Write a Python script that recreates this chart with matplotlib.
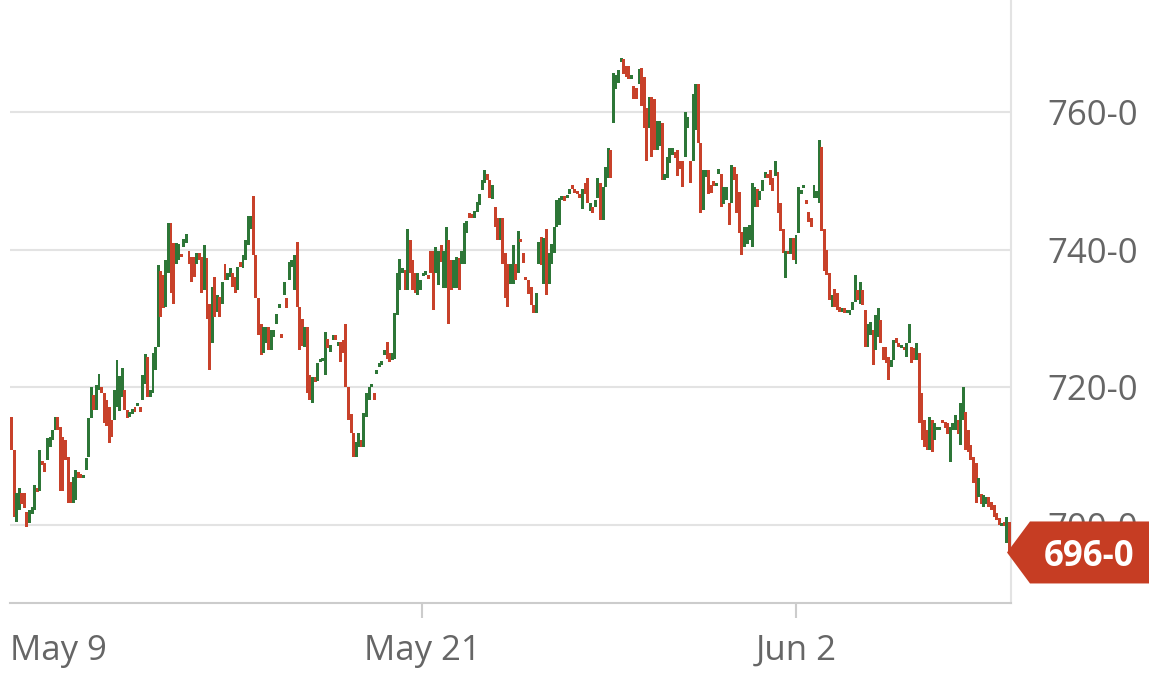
import numpy as np
import matplotlib
matplotlib.use('Agg')
import matplotlib.pyplot as plt
from matplotlib.patches import Polygon
from matplotlib.transforms import IdentityTransform

# bar open / close values (one bar per interval)
opens = [
    715.7, 710.9, 700.4, 702.2, 704.6, 704.6, 701.9, 700.3, 701.6, 702.2,
    705.4, 705.0, 709.3, 709.0, 709.4, 711.3, 712.3, 713.8, 715.7, 714.2,
    712.8, 712.3, 709.9, 706.3, 703.2, 703.6, 707.7, 707.3, 706.8, 708.0,
    709.9, 715.5, 718.9, 716.7, 719.6, 720.1, 719.2, 718.2, 717.1, 715.3,
    715.3, 717.1, 716.6, 718.6, 719.6, 716.7, 715.7, 716.1, 717.1, 717.3,
    717.1, 718.2, 720.5, 724.4, 718.6, 719.2, 722.5, 725.9, 737.0, 736.3,
    731.7, 736.6, 743.9, 741.0, 738.0, 738.6, 739.2, 740.4, 741.0, 739.9,
    738.9, 738.9, 738.0, 739.6, 738.9, 734.1, 738.8, 732.2, 726.4, 736.0,
    731.0, 733.1, 732.2, 738.0, 735.6, 736.0, 736.6, 736.0, 734.1, 738.3,
    737.3, 738.5, 740.7, 743.0, 747.9, 739.2, 733.0, 729.3, 725.0, 726.4,
    728.8, 725.4, 727.3, 729.3, 731.6, 727.8, 733.4, 733.0, 735.6, 737.5,
    734.1, 741.1, 731.7, 730.0, 725.9, 728.8, 721.8, 717.7, 721.5, 721.0,
    723.7, 723.8,
    721.8, 727.0, 725.2, 726.9, 727.6, 726.1, 726.6, 726.9, 729.3, 720.0,
    716.2, 713.4, 709.9, 711.3, 712.4, 711.3, 715.7, 718.2, 720.0, 719.2,
    722.0, 723.0, 723.3, 724.7, 726.6, 725.0, 724.0, 724.2, 730.5, 734.1,
    736.6, 737.1, 734.1, 741.4, 738.5, 736.6, 733.4, 734.1, 736.2, 736.4,
    736.3, 739.9, 739.9, 736.6, 734.9, 740.7, 734.4, 734.4, 741.4, 738.5,
    734.4, 734.4, 738.8, 738.0, 738.0, 742.4, 745.3, 745.0, 744.6, 745.5,
    746.5, 748.7, 749.7, 751.1, 750.1, 747.4, 746.2, 744.7, 741.4,
    744.7, 739.5, 738.0, 735.1, 735.1, 738.0, 736.6, 741.5, 739.5, 736.1,
    735.6, 734.6, 732.0, 730.9, 738.0, 741.9, 735.1, 743.1, 735.1, 738.0,
    739.5, 743.3, 743.6, 747.3, 747.8, 747.5, 748.2, 749.1, 748.8, 748.6,
    748.2, 745.9, 749.7, 750.4, 745.6, 746.3, 746.3, 747.6, 749.7, 744.3,
    749.1, 750.5, 754.5, 758.4, 763.4, 764.3, 767.4, 767.8, 766.8, 766.8,
    764.9, 763.9, 763.6, 764.2, 766.5, 765.1, 760.7, 757.8, 762.2, 762.0,
    754.5, 755.1, 758.5,
    750.1, 750.5, 752.6, 753.8, 754.3, 754.5, 753.0, 753.0, 753.5, 757.7,
    753.0, 753.0, 757.4, 764.2, 755.6, 745.8, 750.6, 751.6, 749.5, 750.0,
    749.3, 751.1, 751.1, 746.7, 747.2, 746.8, 746.8, 752.0, 751.1, 748.4,
    742.6, 740.4, 740.9, 741.4, 740.4, 746.3, 748.8, 747.3, 748.5, 750.4,
    751.1, 751.6, 750.5, 750.7, 751.3, 746.8, 743.1, 735.9, 739.9, 739.4,
    741.8, 737.9, 742.4, 748.1, 749.0, 747.1, 745.5, 744.7, 747.5, 747.6,
    746.8,
    754.9, 743.1, 740.0, 736.6, 731.7, 734.3, 733.7, 731.7, 731.0, 731.5,
    730.8, 730.5, 731.2, 732.4, 734.1, 732.2, 734.1, 731.2, 725.9, 727.6,
    728.3, 725.4, 727.3, 729.8, 725.9, 725.9, 724.4, 723.0, 724.0, 727.2,
    726.4, 725.7, 725.9, 724.4, 726.4, 725.9, 725.7, 724.0, 725.0, 719.2,
    715.3, 713.8, 710.9, 715.3, 712.3, 713.8, 713.8, 715.3, 715.0, 714.8,
    709.2, 713.8, 713.8, 715.3, 711.6, 715.3, 716.4, 713.8, 711.6, 709.9,
    709.0, 704.0, 704.5, 702.6, 703.1, 704.0, 703.4, 702.9, 701.7, 701.0,
    699.8, 700.4, 697.4, 700.4,
]
closes = [
    710.9, 701.2, 704.6, 705.4, 703.1, 702.5, 699.7, 702.2, 702.6, 705.8,
    704.8, 710.9, 708.7, 707.7, 712.6, 712.8, 713.8, 715.7, 713.8, 705.0,
    705.0, 709.4, 703.2, 703.2, 707.0, 708.0, 706.8, 706.9, 707.3, 709.7,
    715.5, 720.0, 716.7, 720.3, 722.0, 719.2, 714.8, 714.4, 711.9, 712.8,
    719.6, 724.0, 721.6, 722.9, 716.7, 715.5, 716.4, 716.8, 716.4, 717.6,
    716.4, 721.8, 724.8, 718.6, 719.6, 725.0, 725.9, 737.8, 730.2, 731.5,
    738.5, 743.9, 733.7, 732.2, 741.0, 740.9, 738.9, 741.6, 742.3, 738.0,
    735.3, 736.0, 739.6, 738.5, 733.7, 740.7, 730.0, 722.5, 734.6, 730.2,
    733.4, 730.2, 735.3, 735.6, 736.6, 737.3, 734.6, 733.8, 737.5, 737.5,
    739.2, 741.4, 745.0, 745.0, 739.2, 733.0, 727.6, 724.7, 728.8, 728.8,
    725.4, 728.3, 728.3, 730.7, 732.2, 727.2, 735.3, 731.5, 738.2, 738.5,
    739.2, 731.7, 725.4, 726.0, 728.8, 719.2, 718.2, 721.5, 720.8, 723.6,
    724.0, 724.1,
    728.0, 725.7, 726.2, 727.6, 726.9, 726.5, 723.7, 725.0, 720.0, 715.3,
    713.4, 709.9, 712.0, 713.4, 711.3, 716.3, 719.2, 720.0, 720.4, 718.2,
    722.5, 723.5, 723.7, 725.4, 724.2, 723.7, 725.0, 730.8, 736.6, 738.7,
    737.3, 734.1, 743.1, 736.6, 734.1, 733.7, 736.6, 735.6, 736.7, 736.9,
    735.8, 736.6, 731.2, 740.4, 739.9, 738.3, 739.9, 743.3, 729.3, 734.1,
    738.5, 739.0, 734.1, 739.9, 743.9, 744.2, 744.6, 744.7, 745.6, 746.9,
    748.2, 750.1, 751.6, 750.1, 747.6, 749.4, 743.3, 741.4, 744.7,
    738.0, 733.0, 731.7, 738.0, 740.7, 735.6, 742.8, 741.1, 738.1, 735.6,
    733.6, 732.0, 730.9, 733.8, 741.1, 737.8, 741.8, 733.4, 739.5, 740.9,
    743.3, 747.2, 747.5, 747.8, 747.1, 748.0, 748.9, 748.9, 748.3, 748.1,
    747.5, 748.8, 748.2, 746.8, 746.8, 745.4, 747.3, 750.4, 744.3, 749.1,
    752.0, 754.8, 750.5, 765.8, 765.4, 766.1, 767.8, 765.6, 765.1, 764.9,
    765.4, 762.0, 762.0, 766.3, 761.0, 757.8, 753.0, 762.2, 753.5, 754.5,
    758.8, 758.8, 750.1,
    751.1, 753.5, 754.8, 754.8, 753.3, 750.8, 751.8, 749.1, 760.0, 759.4,
    749.8, 762.7, 764.2, 755.6, 745.3, 751.6, 751.6, 748.2, 748.3, 749.3,
    749.8, 751.8, 746.2, 749.1, 749.1, 743.6, 752.3, 750.1, 745.3, 742.4,
    739.2, 743.3, 743.3, 743.6, 749.7, 749.1, 746.2, 748.5, 750.2, 751.3,
    750.4, 749.5, 748.6, 752.9, 745.3, 742.8, 739.5, 739.9, 739.4, 741.8,
    738.5, 742.2, 749.1, 748.7, 749.4, 746.7, 744.1, 743.3, 749.5, 748.6,
    756.0,
    742.8, 737.0, 736.4, 732.7, 733.4, 731.7, 731.2, 731.0, 731.5, 730.8,
    731.2, 731.2, 732.4, 736.3, 732.7, 735.3, 732.0, 725.9, 729.3, 729.5,
    723.2, 730.5, 731.5, 726.4, 724.0, 723.5, 721.1, 724.0, 726.9, 726.4,
    725.9, 726.0, 725.4, 726.4, 729.3, 723.5, 724.0, 726.4, 714.8, 712.3,
    711.3, 710.9, 715.7, 710.6, 714.8, 714.1, 714.3, 714.8, 714.1, 713.3,
    714.2, 714.8, 716.0, 713.3, 717.7, 720.0, 710.9, 710.6, 709.4, 706.1,
    703.2, 706.8, 703.1, 704.4, 704.0, 702.6, 702.2, 701.2, 700.7, 700.0,
    700.2, 699.8, 701.2, 696.0,
]

# date labels sit at these bar positions
date_pos = [-0.6, 159.6, 305.0]
date_labels = ['May 9', 'May 21', 'Jun 2']
price_ticks = [700, 720, 740, 760]
price_labels = ['700-0', '720-0', '740-0', '760-0']
last_label = '696-0'

plt.rcParams['font.family'] = ['Open Sans', 'DejaVu Sans']

o = np.array(opens)
c = np.array(closes)
x = np.arange(len(o))
colors = np.where(c >= o, '#2d7637', '#c8412a')
bottom = np.minimum(o, c)
height = np.maximum(np.abs(c - o), 0.5)

fig = plt.figure(figsize=(11.75, 6.97), dpi=100)
ax = fig.add_axes([10 / 1175, 94 / 697, 1001 / 1175, 603 / 697])
ax.bar(x, height, bottom=bottom, width=1.15, color=colors, linewidth=0, zorder=3)

ax.set_xlim(-0.6, len(o) - 0.4)
ax.set_ylim(688.65, 776.35)

ax.set_yticks(price_ticks, price_labels)
ax.yaxis.tick_right()
ax.yaxis.grid(True, color='#e3e3e3', lw=1.5)
ax.set_axisbelow(True)
ax.tick_params(axis='y', length=0, pad=26, labelsize=25, labelcolor='#666666')

ax.set_xticks(date_pos, date_labels)
ax.tick_params(axis='x', length=11, width=1.5, color='#cccccc', pad=11,
               labelsize=25, labelcolor='#666666')
t0 = ax.xaxis.get_major_ticks()[0]
t0.tick1line.set_visible(False)
t0.label1.set_horizontalalignment('left')

for s in ['left', 'top']:
    ax.spines[s].set_visible(False)
ax.spines['bottom'].set_color('#cccccc')
ax.spines['bottom'].set_linewidth(1.5)
ax.spines['right'].set_color('#e3e3e3')
ax.spines['right'].set_linewidth(1.5)

# last price tag
ax_right = ax.transAxes.transform((1, 0))[0]
ty = ax.transData.transform((0, closes[-1]))[1]
tx = ax_right - 4
verts = [(tx, ty), (tx + 23, ty + 31), (tx + 142, ty + 31),
         (tx + 142, ty - 31), (tx + 23, ty - 31)]
tag = Polygon(verts, closed=True, transform=IdentityTransform(),
              facecolor='#c63d23', edgecolor='none', zorder=10)
fig.add_artist(tag)
fig.text(tx + 82, ty - 13.5, last_label, transform=IdentityTransform(),
         ha='center', va='baseline', color='white', fontsize=25,
         fontweight='bold', zorder=11)

fig.savefig('out.png', dpi=100)
